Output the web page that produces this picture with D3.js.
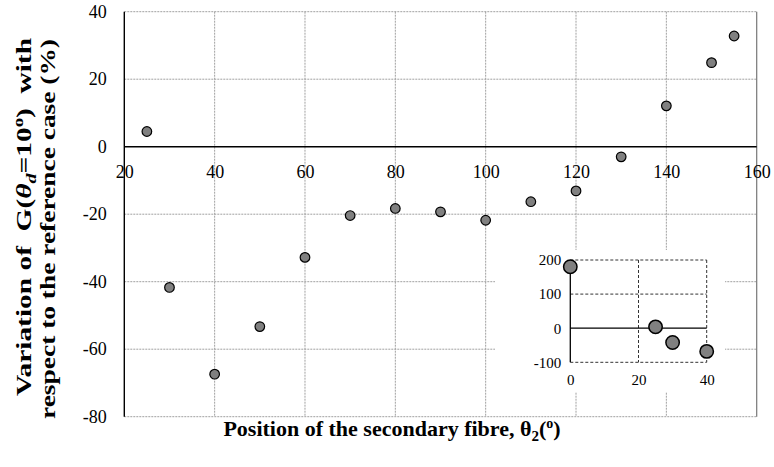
<!DOCTYPE html>
<html>
<head>
<meta charset="utf-8">
<script src="https://cdn.jsdelivr.net/npm/d3@7"></script>
<style>
  body { margin: 0; background: #fff; }
  svg text, svg tspan { font-family: "Liberation Serif", "Tinos", "Times New Roman", Times !important; }
</style>
</head>
<body>
<div id="chart"></div>
<script>
// main series: position of secondary fibre vs variation of G (%)
const positions = [25, 30, 40, 50, 60, 70, 80, 90, 100, 110, 120, 130, 140, 150, 155];
const variation = [4.5, -41.7, -67.4, -53.3, -32.8, -20.4, -18.3, -19.3, -21.8, -16.3, -13.1, -3.0, 12.1, 24.9, 32.8];
const xTicks = [20, 40, 60, 80, 100, 120, 140, 160];
const yTicks = [-80, -60, -40, -20, 0, 20, 40];

// inset series
const insetPositions = [0, 25, 30, 40];
const insetVariation = [180, 4, -42, -68];
const insetXTicks = [0, 20, 40];
const insetYTicks = [-100, 0, 100, 200];

const FONT = '"Liberation Serif"';

const render = () => {
  const w = 774;
  const h = 467;

  const svg = d3.select('#chart')
    .append('svg')
    .attr('width', w)
    .attr('height', h)
    .style('font-family', FONT);

  const xScale = d3.scaleLinear().domain([20, 160]).range([124.3, 756.7]);
  const yScale = d3.scaleLinear().domain([-80, 40]).range([416.7, 11.7]);

  // grid
  svg.append('g').selectAll('line')
    .data(xTicks.slice(1, -1))
    .enter().append('line')
    .attr('x1', d => xScale(d)).attr('x2', d => xScale(d))
    .attr('y1', yScale(40)).attr('y2', yScale(-80))
    .attr('stroke', '#a0a0a0').attr('stroke-width', 1).attr('stroke-dasharray', '2,1');

  svg.append('g').selectAll('line')
    .data(yTicks.filter(d => d !== 0))
    .enter().append('line')
    .attr('x1', xScale(20)).attr('x2', xScale(160))
    .attr('y1', d => yScale(d)).attr('y2', d => yScale(d))
    .attr('stroke', '#a0a0a0').attr('stroke-width', 1).attr('stroke-dasharray', '2,1');

  // right border
  svg.append('line')
    .attr('x1', xScale(160)).attr('x2', xScale(160))
    .attr('y1', yScale(40)).attr('y2', yScale(-80))
    .attr('stroke', '#777').attr('stroke-width', 1.2);

  // zero line and left axis
  svg.append('line')
    .attr('x1', xScale(20)).attr('x2', xScale(160))
    .attr('y1', yScale(0)).attr('y2', yScale(0))
    .attr('stroke', '#000').attr('stroke-width', 1.4);
  svg.append('line')
    .attr('x1', xScale(20)).attr('x2', xScale(20))
    .attr('y1', yScale(40)).attr('y2', yScale(-80))
    .attr('stroke', '#000').attr('stroke-width', 1.4);

  // tick labels
  const fmt = d => String(d);
  const xAxis = d3.axisBottom(xScale).tickValues(xTicks).tickFormat(fmt).tickSize(0).tickPadding(19);
  const yAxis = d3.axisLeft(yScale).tickValues(yTicks).tickFormat(fmt).tickSize(0).tickPadding(17.5);

  svg.append('g')
    .attr('class', 'x-axis')
    .attr('transform', `translate(0, ${yScale(0)})`)
    .call(xAxis);

  svg.append('g')
    .attr('class', 'y-axis')
    .attr('transform', `translate(${xScale(20)}, 0)`)
    .call(yAxis);

  svg.selectAll('.x-axis, .y-axis').attr('font-family', FONT).attr('font-size', 18);
  svg.selectAll('.x-axis .tick text, .y-axis .tick text').attr('fill', '#000');
  svg.selectAll('.x-axis .domain, .y-axis .domain').remove();

  // points
  svg.append('g').selectAll('circle')
    .data(positions)
    .enter().append('circle')
    .attr('cx', d => xScale(d))
    .attr('cy', (d, i) => yScale(variation[i]))
    .attr('r', 4.8)
    .attr('fill', '#808080')
    .attr('stroke', '#000')
    .attr('stroke-width', 1.2);

  /**
   * INSET
   */
  const ix = d3.scaleLinear().domain([0, 40]).range([570.3, 706.7]);
  const iy = d3.scaleLinear().domain([-100, 200]).range([362.3, 260]);
  const inset = svg.append('g').attr('class', 'inset');

  inset.append('rect')
    .attr('x', 495).attr('y', 250).attr('width', 230).attr('height', 142)
    .attr('fill', '#fff');

  const dashed = [
    [ix(20), iy(200), ix(20), iy(-100)],
    [ix(0), iy(100), ix(40), iy(100)],
    [ix(0), iy(200), ix(40), iy(200)],
    [ix(40), iy(200), ix(40), iy(-100)],
    [ix(0), iy(-100), ix(40), iy(-100)]
  ];
  inset.append('g').selectAll('line')
    .data(dashed)
    .enter().append('line')
    .attr('x1', d => d[0]).attr('y1', d => d[1])
    .attr('x2', d => d[2]).attr('y2', d => d[3])
    .attr('stroke', '#333').attr('stroke-width', 1).attr('stroke-dasharray', '3,2');

  inset.append('line')
    .attr('x1', ix(0)).attr('x2', ix(40))
    .attr('y1', iy(0)).attr('y2', iy(0))
    .attr('stroke', '#000').attr('stroke-width', 1.3);
  inset.append('line')
    .attr('x1', ix(0)).attr('x2', ix(0))
    .attr('y1', iy(200)).attr('y2', iy(-100))
    .attr('stroke', '#000').attr('stroke-width', 1.3);

  inset.append('g')
    .attr('class', 'ix-axis')
    .attr('transform', `translate(0, ${iy(-100)})`)
    .call(d3.axisBottom(ix).tickValues(insetXTicks).tickFormat(fmt).tickSize(0).tickPadding(12));
  inset.append('g')
    .attr('class', 'iy-axis')
    .attr('transform', `translate(${ix(0)}, 0)`)
    .call(d3.axisLeft(iy).tickValues(insetYTicks).tickFormat(fmt).tickSize(0).tickPadding(9));

  inset.selectAll('.ix-axis, .iy-axis').attr('font-family', FONT).attr('font-size', 15);
  inset.selectAll('.ix-axis .tick text, .iy-axis .tick text').attr('fill', '#000');
  inset.selectAll('.domain').remove();

  inset.append('g').selectAll('circle')
    .data(insetPositions)
    .enter().append('circle')
    .attr('cx', d => ix(d))
    .attr('cy', (d, i) => iy(insetVariation[i]))
    .attr('r', 6.7)
    .attr('fill', '#808080')
    .attr('stroke', '#000')
    .attr('stroke-width', 1.5);

  /**
   * TITLES
   */
  const xTitle = svg.append('text')
    .attr('text-anchor', 'middle')
    .attr('x', 392).attr('y', 436)
    .attr('font-size', 22).attr('font-weight', 'bold');
  xTitle.append('tspan').text('Position of the secondary fibre, θ');
  xTitle.append('tspan').attr('dy', 5).attr('font-size', 15).text('2');
  xTitle.append('tspan').attr('dy', -5).text('(');
  xTitle.append('tspan').attr('dy', -8).attr('font-size', 14).text('o');
  xTitle.append('tspan').attr('dy', 8).text(')');

  const yTitle1 = svg.append('text')
    .attr('text-anchor', 'middle')
    .attr('transform', 'translate(31, 217) rotate(-90)')
    .attr('font-size', 22).attr('font-weight', 'bold')
    .attr('xml:space', 'preserve')
    .attr('textLength', 358)
    .attr('lengthAdjust', 'spacingAndGlyphs');
  yTitle1.append('tspan').text('Variation of  G(');
  yTitle1.append('tspan').attr('font-style', 'italic').text('θ');
  yTitle1.append('tspan').attr('font-style', 'italic').attr('dy', 5).attr('font-size', 15).text('d');
  yTitle1.append('tspan').attr('dy', -5).text('=10');
  yTitle1.append('tspan').attr('dy', -8).attr('font-size', 14).text('o');
  yTitle1.append('tspan').attr('dy', 8).text(')  with');

  svg.append('text')
    .attr('text-anchor', 'middle')
    .attr('transform', 'translate(55, 229) rotate(-90)')
    .attr('font-size', 22).attr('font-weight', 'bold')
    .attr('textLength', 380)
    .attr('lengthAdjust', 'spacingAndGlyphs')
    .text('respect to the reference case (%)');

  svg.selectAll('text').style('font-family', FONT);
}

render();
</script>
</body>
</html>
